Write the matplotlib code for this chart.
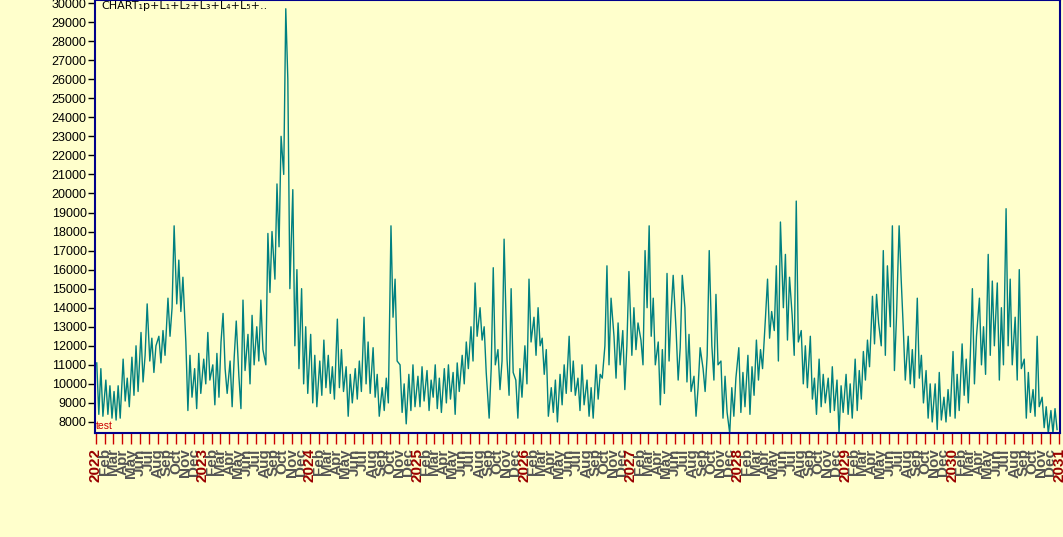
import numpy as np
import pandas as pd
import matplotlib
matplotlib.use('Agg')
import matplotlib.pyplot as plt

# four readings per month (roughly weekly)
v2022 = [11100, 8400, 10800, 8300, 10200, 8400, 9900, 8200, 9600, 8100, 9900, 8200,
         11300, 9100, 10300, 8800, 11400, 9400, 12000, 9600, 12700, 10100, 11500, 14200,
         11200, 12400, 10600, 12000, 12500, 11100, 12800, 11500, 14500, 12500, 14000, 18300,
         14200, 16500, 13800, 15600, 12200, 8600, 11500, 9300, 10800, 8700, 11600, 9500]
v2023 = [11300, 10000, 12700, 10200, 11000, 8900, 11600, 9300, 12200, 13700, 10800, 9500,
         11200, 8800, 11400, 13300, 10400, 8700, 14400, 10700, 12600, 10000, 13600, 11000,
         13000, 11200, 14400, 11800, 11000, 17900, 14800, 18000, 15500, 20500, 17200, 23000,
         21000, 29700, 26000, 15000, 20200, 12000, 16000, 10800, 15000, 10000, 13000, 9500]
v2024 = [12600, 9000, 11500, 8800, 11200, 9400, 12300, 9800, 11500, 9500, 10900, 9200,
         13400, 9800, 11800, 9600, 10900, 8300, 10500, 9000, 10800, 9200, 11200, 9600,
         13500, 10000, 12200, 9500, 11900, 9300, 10500, 8300, 9800, 8600, 10300, 9000,
         18300, 13500, 15500, 11200, 11000, 8500, 10000, 7900, 10500, 8600, 11000, 8800]
v2025 = [10400, 8800, 10900, 9100, 10700, 8600, 10200, 9300, 11000, 8700, 10300, 8500,
         10800, 9000, 11000, 9200, 10600, 8400, 11100, 9600, 11500, 10000, 12200, 10800,
         13000, 11200, 15300, 12500, 14000, 12300, 13000, 10600, 8200, 10800, 16100, 11000,
         11800, 9700, 11200, 17600, 11300, 9400, 15000, 10600, 10200, 8200, 10800, 9300]
v2026 = [12000, 10000, 15500, 12200, 13500, 11500, 14000, 12000, 12400, 10500, 11800, 8300,
         9800, 8500, 10200, 8000, 10500, 8900, 11000, 9500, 12500, 9600, 11200, 9400,
         10300, 8600, 11000, 8900, 10200, 8300, 9800, 8200, 11000, 9200, 10500, 10300,
         12000, 16200, 11000, 14500, 12500, 10300, 13200, 11000, 12800, 9700, 12000, 15900]
v2027 = [11500, 14000, 11800, 13200, 12300, 11000, 17000, 14000, 18300, 12500, 14500, 11000,
         12200, 8900, 11800, 9500, 15800, 11200, 13800, 15700, 12800, 10200, 11900, 15700,
         14000, 10100, 12600, 9600, 10400, 8300, 9800, 11900, 10800, 9600, 11500, 17000,
         12000, 10200, 14700, 11000, 11200, 8200, 10400, 8500, 7400, 9800, 8300, 10300]
v2028 = [11900, 8500, 10600, 8800, 11500, 8400, 10900, 9400, 12300, 10200, 11800, 10800,
         13500, 15500, 12400, 13800, 12800, 16200, 11200, 18500, 14000, 16800, 12300, 15600,
         13600, 11500, 19600, 12200, 12800, 10000, 12000, 9800, 12500, 9200, 10300, 8400,
         11300, 8800, 10500, 9000, 10300, 8500, 10900, 8600, 10200, 7400, 9900, 8500]
v2029 = [10500, 8400, 10000, 8200, 11300, 8600, 10700, 9200, 11700, 10200, 12300, 10900,
         14600, 12100, 14700, 13200, 12000, 17000, 11500, 16200, 13000, 18300, 10700, 13500,
         18300, 15500, 13000, 10200, 12500, 10000, 11800, 9800, 14500, 10300, 11500, 9000,
         10700, 8200, 10000, 8000, 10000, 7600, 10600, 8100, 9300, 8000, 9700, 8300]
v2030 = [11700, 8200, 10500, 8600, 12100, 9400, 11300, 9000, 11500, 15000, 10000, 12500,
         14500, 11000, 13000, 10500, 16800, 11500, 15400, 12000, 15300, 10200, 14000, 11000,
         19200, 12000, 15500, 11000, 13500, 10200, 16000, 10800, 11300, 8200, 10600, 8500,
         9700, 8300, 12500, 8800, 9300, 7700, 8800, 7400, 8600, 7400, 8700, 7600]

month_names = ['Jan', 'Feb', 'Mar', 'Apr', 'May', 'Jun',
               'Jul', 'Aug', 'Sep', 'Oct', 'Nov', 'Dec']

values = np.array(v2022 + v2023 + v2024 + v2025 + v2026 + v2027 + v2028 + v2029 + v2030)
months = pd.date_range('2022-01-01', periods=108, freq='MS')
dates = pd.DatetimeIndex(np.repeat(months.values, 4)) + pd.to_timedelta(np.tile([3, 10, 17, 24], 108), unit='D')

bg = '#ffffcc'
fig = plt.figure(figsize=(10.63, 5.37), dpi=100, facecolor=bg)
ax = fig.add_axes([95 / 1063, 104 / 537, 965 / 1063, 433 / 537], facecolor=bg)

ax.plot(dates, values, color='#008080', linewidth=1.0)

ax.set_xlim(pd.Timestamp('2021-12-29'), pd.Timestamp('2031-01-04'))
ax.set_ylim(7420, 30160)

# y axis
ax.set_yticks(np.arange(8000, 30001, 1000))
ax.tick_params(axis='y', direction='out', length=5, width=1, color='black', pad=1,
               labelsize=9, labelcolor='black')
for lbl in ax.get_yticklabels():
    lbl.set_family('Liberation Sans')

# x axis: a tick every month, year label in January
tick_dates = pd.date_range('2022-01-01', '2031-01-01', freq='MS')
tick_labels = [str(d.year) if d.month == 1 else month_names[d.month - 1] for d in tick_dates]
ax.set_xticks(tick_dates)
ax.set_xticklabels(tick_labels, rotation=90, fontsize=11, fontweight='bold',
                   family='Liberation Sans')
ax.tick_params(axis='x', direction='out', length=8, width=1, color='#cc0000', pad=3)
for lbl, d in zip(ax.get_xticklabels(), tick_dates):
    lbl.set_color('#990000' if d.month == 1 else '#555555')

for side in ['left', 'right', 'top', 'bottom']:
    ax.spines[side].set_color('#00008b')
    ax.spines[side].set_linewidth(1.5)

ax.text(0.007, 0.997, 'CHART\u2081p+L\u2081+L\u2082+L\u2083+L\u2084+L\u2085+..',
        transform=ax.transAxes, ha='left', va='top', fontsize=8, color='black',
        family='DejaVu Sans')
ax.text(0.001, 0.004, 'test', transform=ax.transAxes, ha='left', va='bottom',
        fontsize=7.5, color='#cc0000', family='Liberation Sans')

fig.savefig('out.png', dpi=100, facecolor=bg)
